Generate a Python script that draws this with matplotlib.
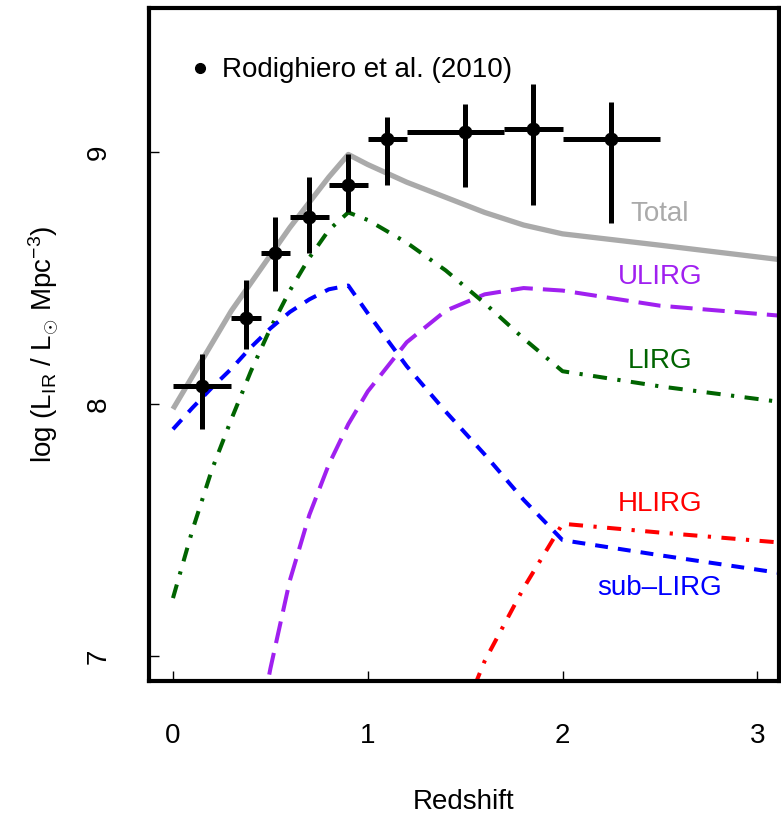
import matplotlib
matplotlib.use("Agg")
import matplotlib.pyplot as plt
import numpy as np
from matplotlib.lines import Line2D

plt.rcParams['font.family'] = ['Liberation Sans', 'DejaVu Sans']
plt.rcParams['mathtext.fontset'] = 'custom'
plt.rcParams['mathtext.rm'] = 'Liberation Sans'
plt.rcParams['mathtext.it'] = 'Liberation Sans:italic'

# Rodighiero et al. (2010) IR luminosity density
z_obs = [0.15, 0.375, 0.525, 0.70, 0.90, 1.10, 1.50, 1.85, 2.25]
z_lo = [0.0, 0.30, 0.45, 0.60, 0.80, 1.00, 1.20, 1.70, 2.00]
z_hi = [0.30, 0.45, 0.60, 0.80, 1.00, 1.20, 1.70, 2.00, 2.50]
lum_obs = [8.07, 8.34, 8.60, 8.74, 8.87, 9.05, 9.08, 9.09, 9.05]
err_up = [0.13, 0.15, 0.14, 0.16, 0.12, 0.09, 0.11, 0.18, 0.15]
err_dn = [0.17, 0.12, 0.15, 0.14, 0.11, 0.18, 0.22, 0.30, 0.33]

# model luminosity densities by class
z_model = [0.0, 0.1, 0.2, 0.3, 0.4, 0.5, 0.6, 0.7, 0.8, 0.9,
           1.0, 1.2, 1.4, 1.6, 1.8, 2.0, 2.5, 3.2]
total = [7.98, 8.11, 8.24, 8.37, 8.48, 8.59, 8.70, 8.80, 8.90, 8.99,
         8.95, 8.88, 8.82, 8.76, 8.71, 8.675, 8.63, 8.565]
ulirg = [np.nan, np.nan, np.nan, np.nan, 6.55, 6.95, 7.30, 7.56, 7.76, 7.92,
         8.05, 8.245, 8.37, 8.435, 8.46, 8.45, 8.39, 8.345]
lirg = [7.23, 7.50, 7.74, 7.94, 8.13, 8.30, 8.45, 8.58, 8.69, 8.76,
        8.73, 8.64, 8.53, 8.40, 8.26, 8.13, 8.07, 8.00]
hlirg = [np.nan] * 12 + [6.60, 6.98, 7.27, 7.525, 7.49, 7.445]
sublirg = [7.90, 7.985, 8.065, 8.14, 8.225, 8.30, 8.365, 8.415, 8.455, 8.47,
           8.36, 8.15, 7.97, 7.80, 7.62, 7.46, 7.40, 7.32]

fig = plt.figure(figsize=(7.81, 8.16), dpi=100)
ax = fig.add_axes([0.1908, 0.1654, 0.8066, 0.8248])

dashdot = (0, (3.5, 2.6, 0.8, 2.6))
ax.plot(z_model, total, color='#aaaaaa', lw=3.8, solid_capstyle='butt')
ax.plot(z_model, ulirg, color='#a020f0', lw=2.9, ls=(0, (5.5, 2.5)))
ax.plot(z_model, lirg, color='#006400', lw=2.9, ls=dashdot)
ax.plot(z_model, hlirg, color='#ff0000', lw=2.9, ls=dashdot)
ax.plot(z_model, sublirg, color='#0000ff', lw=2.9, ls=(0, (3.2, 2.5)))

xerr = [np.array(z_obs) - np.array(z_lo), np.array(z_hi) - np.array(z_obs)]
ax.errorbar(z_obs, lum_obs, xerr=xerr, yerr=[err_dn, err_up], fmt='o',
            color='black', ms=9, elinewidth=3.6, capsize=0, zorder=5)

txt = 20
ax.text(2.5, 8.754, 'Total', color='#aaaaaa', fontsize=txt, ha='center', va='center')
ax.text(2.5, 8.502, 'ULIRG', color='#a020f0', fontsize=txt, ha='center', va='center')
ax.text(2.5, 8.17, 'LIRG', color='#006400', fontsize=txt, ha='center', va='center')
ax.text(2.5, 7.603, 'HLIRG', color='#ff0000', fontsize=txt, ha='center', va='center')
ax.text(2.5, 7.27, 'sub\u2013LIRG', color='#0000ff', fontsize=txt, ha='center', va='center')

dot = Line2D([], [], marker='o', color='black', ls='none', ms=7)
ax.legend([dot], ['Rodighiero et al. (2010)'], loc='center left',
          bbox_to_anchor=(0.0635, 0.9075), frameon=False, fontsize=txt,
          handlelength=0.8, handletextpad=0.4, borderpad=0, borderaxespad=0)

ax.set_xlim(-0.123, 3.111)
ax.set_ylim(6.901, 9.571)
ax.set_xticks([0, 1, 2, 3])
ax.set_yticks([7, 8, 9])
ax.tick_params(direction='in', length=7, width=1, labelsize=txt)
ax.tick_params(axis='x', pad=30)
ax.tick_params(axis='y', pad=27, labelrotation=90)
for lab in ax.get_yticklabels():
    lab.set_va('center')
for sp in ax.spines.values():
    sp.set_linewidth(3)

ax.set_xlabel('Redshift', fontsize=txt)
ax.xaxis.set_label_coords(0.5, -0.16)
ax.set_ylabel(r'log (L$_{\mathrm{IR}}$ / L$_{\odot}$ Mpc$^{-3}$)', fontsize=txt)
ax.yaxis.set_label_coords(-0.14, 0.5)

fig.savefig('out.png', dpi=100)
